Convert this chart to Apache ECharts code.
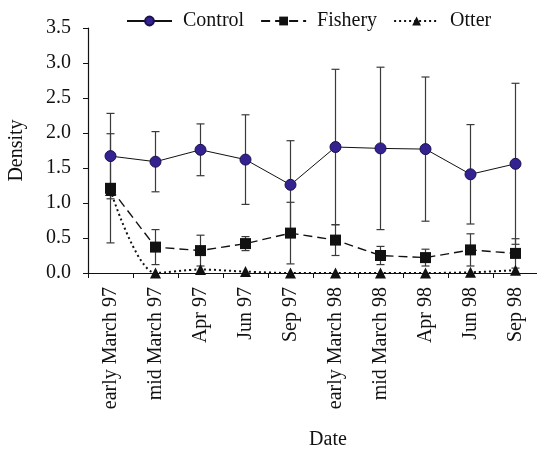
<!DOCTYPE html>
<html>
<head>
<meta charset="utf-8">
<script src="https://cdn.jsdelivr.net/npm/echarts@6/dist/echarts.min.js"></script>
<style>
    html, body { margin: 0; padding: 0; background: #fff; }
    #main { width: 537px; height: 449px; }
</style>
</head>
<body>
<div id="main"></div>
<script>
var dates = ['early March 97', 'mid March 97', 'Apr 97', 'Jun 97', 'Sep 97',
    'early March 98', 'mid March 98', 'Apr 98', 'Jun 98', 'Sep 98'];

var controlMean = [1.67, 1.59, 1.76, 1.62, 1.26, 1.80, 1.78, 1.77, 1.41, 1.56];
var controlErr = [0.61, 0.43, 0.37, 0.64, 0.63, 1.11, 1.16, 1.03, 0.71, 1.15];

var fisheryMean = [1.21, 0.37, 0.32, 0.42, 0.57, 0.47, 0.25, 0.22, 0.33, 0.28];
var fisheryErr = [0.78, 0.25, 0.22, 0.10, 0.44, 0.22, 0.13, 0.12, 0.23, 0.21];

var otterMean = [1.18, 0.00, 0.05, 0.02, 0.00, 0.00, 0.00, 0.00, 0.01, 0.04];

var seriesNames = ['Control', 'Fishery', 'Otter'];
var yTicks = [0, 0.5, 1.0, 1.5, 2.0, 2.5, 3.0, 3.5];

var font = 'serif';

var chartDom = document.getElementById('main');
var myChart = echarts.init(chartDom);

function errorData(mean, err) {
    return mean.map(function (m, i) {
        return [i, m, err[i]];
    });
}

function renderErrorBar(params, api) {
    var x = api.value(0);
    var m = api.value(1);
    var e = api.value(2);
    if (!e) {
        return;
    }
    var top = api.coord([x, m + e]);
    var bot = api.coord([x, m - e]);
    var half = 4;
    var style = { stroke: '#3a3a3a', lineWidth: 1.2 };
    return {
        type: 'group',
        children: [
            { type: 'line', shape: { x1: top[0], y1: top[1], x2: bot[0], y2: bot[1] }, style: style },
            { type: 'line', shape: { x1: top[0] - half, y1: top[1], x2: top[0] + half, y2: top[1] }, style: style },
            { type: 'line', shape: { x1: bot[0] - half, y1: bot[1], x2: bot[0] + half, y2: bot[1] }, style: style }
        ]
    };
}

var legendText = { fontFamily: font, fontSize: 20, color: '#111', padding: [0, 0, 0, 6] };

var option = {
    animation: false,
    backgroundColor: '#fff',
    textStyle: { fontFamily: font },
    legend: {
        top: 6,
        left: 121,
        itemWidth: 45,
        itemHeight: 11,
        itemGap: 16,
        textStyle: legendText,
        data: seriesNames.map(function (n) {
            return { name: n, textStyle: legendText };
        })
    },
    grid: {
        left: 88,
        top: 28,
        width: 450,
        bottom: 176,
        outerBoundsMode: 'none',
        containLabel: false
    },
    xAxis: {
        type: 'category',
        data: dates,
        boundaryGap: true,
        name: 'Date',
        nameLocation: 'middle',
        nameGap: 157,
        nameTextStyle: { fontFamily: font, fontSize: 20, color: '#111', padding: [0, 0, 0, 30] },
        axisLine: { lineStyle: { color: '#111', width: 1.2 } },
        axisTick: { show: true, length: 5, interval: 0, lineStyle: { color: '#111' } },
        axisLabel: {
            rotate: 90,
            interval: 0,
            margin: 14,
            fontFamily: font,
            fontSize: 20,
            color: '#111'
        },
        splitLine: { show: false }
    },
    yAxis: {
        type: 'value',
        min: 0,
        max: 3.5,
        interval: 0.5,
        name: 'Density',
        nameLocation: 'middle',
        nameGap: 61,
        nameTextStyle: { fontFamily: font, fontSize: 20, color: '#111' },
        axisLine: { show: true, lineStyle: { color: '#111', width: 1.2 } },
        axisTick: { show: true, length: 5, lineStyle: { color: '#111' } },
        axisLabel: {
            margin: 17,
            fontFamily: font,
            fontSize: 20,
            color: '#111',
            formatter: function (v) {
                return yTicks.indexOf(v) >= 0 ? v.toFixed(1) : '';
            }
        },
        splitLine: { show: false }
    },
    series: [
        {
            name: 'Control error',
            type: 'custom',
            renderItem: renderErrorBar,
            encode: { x: 0, y: 1 },
            data: errorData(controlMean, controlErr),
            z: 1,
            silent: true
        },
        {
            name: 'Fishery error',
            type: 'custom',
            renderItem: renderErrorBar,
            encode: { x: 0, y: 1 },
            data: errorData(fisheryMean, fisheryErr),
            z: 1,
            silent: true
        },
        {
            name: 'Otter',
            type: 'line',
            data: otterMean,
            smooth: 0.3,
            symbol: 'triangle',
            symbolSize: 11,
            itemStyle: { color: '#111' },
            lineStyle: { color: '#111', width: 2, type: [2, 3] },
            z: 3
        },
        {
            name: 'Fishery',
            type: 'line',
            data: fisheryMean,
            symbol: 'rect',
            symbolSize: 11,
            itemStyle: { color: '#111' },
            lineStyle: { color: '#111', width: 1.4, type: [9, 5] },
            z: 4
        },
        {
            name: 'Control',
            type: 'line',
            data: controlMean,
            symbol: 'circle',
            symbolSize: 11,
            itemStyle: { color: '#33228f', borderColor: '#1a1050', borderWidth: 1 },
            lineStyle: { color: '#111', width: 1 },
            z: 5
        }
    ]
};

myChart.setOption(option);
</script>
</body>
</html>
